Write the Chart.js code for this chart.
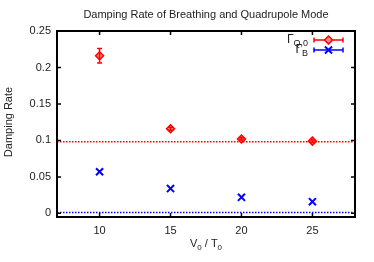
<!DOCTYPE html>
<html lang="en">
<head>
<meta charset="UTF-8">
<title>Damping Rate of Breathing and Quadrupole Mode</title>
<script src="https://cdn.jsdelivr.net/npm/chart.js"></script>
<style>
  html, body { margin: 0; padding: 0; background: #fff; }
</style>
</head>
<body>
<canvas id="chart" width="374" height="262"></canvas>
<script>
  const xValues = [10, 15, 20, 25];
  const quadRate = [0.216, 0.116, 0.102, 0.099];
  const quadErr = [0.010, 0.002, 0.0015, 0.0015];
  const breathRate = [0.057, 0.034, 0.022, 0.016];
  const breathErr = [0, 0, 0, 0];
  const quadLimit = 0.098;
  const breathLimit = 0.001;
  const xTicks = [10, 15, 20, 25];
  const yTicks = [0, 0.05, 0.1, 0.15, 0.2, 0.25];
  const xRange = [7, 28];
  const yRange = [-0.005, 0.25];

  const RED = '#ff0000';
  const BLUE = '#0000ff';
  const FONT = "'Liberation Sans', Arial, sans-serif";

  Chart.defaults.font.family = FONT;
  Chart.defaults.font.size = 11;
  Chart.defaults.color = '#222';

  const toPoints = (xs, ys) => xs.map((x, i) => ({ x: x, y: ys[i] }));

  // gnuplot-ish frame, inward ticks, error bars, legend and labels
  const decor = {
    id: 'decor',
    afterDatasetsDraw(chart) {
      const ctx = chart.ctx;
      const a = chart.chartArea;
      const xs = chart.scales.x, ys = chart.scales.y;

      // error bars
      ctx.save();
      ctx.lineWidth = 1.5;
      [[quadRate, quadErr, RED], [breathRate, breathErr, BLUE]].forEach(([vals, errs, col]) => {
        ctx.strokeStyle = col;
        xValues.forEach((x, i) => {
          if (!errs[i]) return;
          const px = xs.getPixelForValue(x);
          const top = ys.getPixelForValue(vals[i] + errs[i]);
          const bot = ys.getPixelForValue(vals[i] - errs[i]);
          ctx.beginPath();
          ctx.moveTo(px, top); ctx.lineTo(px, bot);
          ctx.moveTo(px - 2.5, top); ctx.lineTo(px + 2.5, top);
          ctx.moveTo(px - 2.5, bot); ctx.lineTo(px + 2.5, bot);
          ctx.stroke();
        });
      });
      ctx.restore();

      // frame
      ctx.save();
      ctx.strokeStyle = '#000';
      ctx.lineWidth = 2;
      ctx.strokeRect(a.left, a.top, a.right - a.left, a.bottom - a.top);
      ctx.lineWidth = 1.5;
      ctx.beginPath();
      xTicks.forEach(t => {
        const px = xs.getPixelForValue(t);
        ctx.moveTo(px, a.bottom); ctx.lineTo(px, a.bottom - 4);
        ctx.moveTo(px, a.top); ctx.lineTo(px, a.top + 4);
      });
      yTicks.forEach(t => {
        const py = ys.getPixelForValue(t);
        ctx.moveTo(a.left, py); ctx.lineTo(a.left + 4, py);
        ctx.moveTo(a.right, py); ctx.lineTo(a.right - 4, py);
      });
      ctx.stroke();
      ctx.restore();

      // title
      ctx.save();
      ctx.fillStyle = '#222';
      ctx.font = '11px ' + FONT;
      ctx.textAlign = 'center';
      ctx.textBaseline = 'middle';
      ctx.fillText('Damping Rate of Breathing and Quadrupole Mode', (a.left + a.right) / 2, 15);

      // y axis label
      ctx.save();
      ctx.translate(9, (a.top + a.bottom) / 2 - 2);
      ctx.rotate(-Math.PI / 2);
      ctx.fillText('Damping Rate', 0, 0);
      ctx.restore();

      // x axis label with subscripts
      const parts = [['V', 11, 0], ['0', 8, 3], [' / T', 11, 0], ['0', 8, 3]];
      let total = 0;
      parts.forEach(p => { ctx.font = p[1] + 'px ' + FONT; total += ctx.measureText(p[0]).width; });
      let cx = (a.left + a.right) / 2 - total / 2;
      ctx.textAlign = 'left';
      ctx.textBaseline = 'alphabetic';
      parts.forEach(p => {
        ctx.font = p[1] + 'px ' + FONT;
        ctx.fillText(p[0], cx, 247 + p[2]);
        cx += ctx.measureText(p[0]).width;
      });

      // legend
      const rows = [
        { main: '\u0393', sub: 'Q,0', y: 40, col: RED, ds: 0 },
        { main: '\u0393', sub: 'B', y: 50, col: BLUE, ds: 1 }
      ];
      rows.forEach(r => {
        ctx.font = '9px ' + FONT;
        const sw = ctx.measureText(r.sub).width;
        ctx.font = '12px ' + FONT;
        const mw = ctx.measureText(r.main).width;
        const right = 308;
        ctx.fillStyle = '#222';
        ctx.fillText(r.main, right - sw - mw, r.y + 3);
        ctx.font = '9px ' + FONT;
        ctx.fillText(r.sub, right - sw, r.y + 6);

        ctx.strokeStyle = r.col;
        ctx.lineWidth = 1.5;
        ctx.beginPath();
        ctx.moveTo(314, r.y); ctx.lineTo(343, r.y);
        ctx.moveTo(314, r.y - 2.5); ctx.lineTo(314, r.y + 2.5);
        ctx.moveTo(343, r.y - 2.5); ctx.lineTo(343, r.y + 2.5);
        ctx.stroke();

        const o = chart.data.datasets[r.ds];
        ctx.fillStyle = o.backgroundColor;
        ctx.strokeStyle = o.borderColor;
        ctx.lineWidth = o.borderWidth;
        Chart.helpers.drawPoint(ctx, {
          pointStyle: o.pointStyle, radius: o.pointRadius, borderWidth: o.borderWidth, rotation: 0
        }, 328.5, r.y);
      });
      ctx.restore();
    }
  };

  new Chart(document.getElementById('chart'), {
    type: 'scatter',
    data: {
      datasets: [
        {
          label: 'Gamma Q,0',
          data: toPoints(xValues, quadRate),
          pointStyle: 'rectRot',
          pointRadius: 4,
          borderWidth: 1.5,
          borderColor: RED,
          backgroundColor: 'rgba(255,130,130,1)',
          order: 1
        },
        {
          label: 'Gamma B',
          data: toPoints(xValues, breathRate),
          pointStyle: 'crossRot',
          pointRadius: 5,
          borderWidth: 2,
          borderColor: BLUE,
          backgroundColor: BLUE,
          order: 1
        },
        {
          label: 'quad limit',
          data: toPoints(xRange, [quadLimit, quadLimit]),
          showLine: true,
          pointRadius: 0,
          borderColor: RED,
          borderWidth: 1.5,
          borderDash: [1.5, 1.5],
          order: 2
        },
        {
          label: 'breath limit',
          data: toPoints(xRange, [breathLimit, breathLimit]),
          showLine: true,
          pointRadius: 0,
          borderColor: BLUE,
          borderWidth: 1.5,
          borderDash: [1.5, 1.5],
          order: 2
        }
      ]
    },
    options: {
      responsive: false,
      animation: false,
      layout: { padding: { left: 0, right: 19, top: 31, bottom: 0 } },
      plugins: { legend: { display: false }, tooltip: { enabled: false } },
      scales: {
        x: {
          min: xRange[0],
          max: xRange[1],
          grid: { display: false, drawTicks: false },
          border: { display: false },
          afterBuildTicks: s => { s.ticks = xTicks.map(v => ({ value: v })); },
          afterFit: s => { s.height = 45; },
          ticks: { padding: 7, maxRotation: 0, callback: v => String(v) }
        },
        y: {
          min: yRange[0],
          max: yRange[1],
          grid: { display: false, drawTicks: false },
          border: { display: false },
          afterBuildTicks: s => { s.ticks = yTicks.map(v => ({ value: v })); },
          afterFit: s => { s.width = 57; },
          ticks: { padding: 6, callback: v => String(v) }
        }
      }
    },
    plugins: [decor]
  });
</script>
</body>
</html>
